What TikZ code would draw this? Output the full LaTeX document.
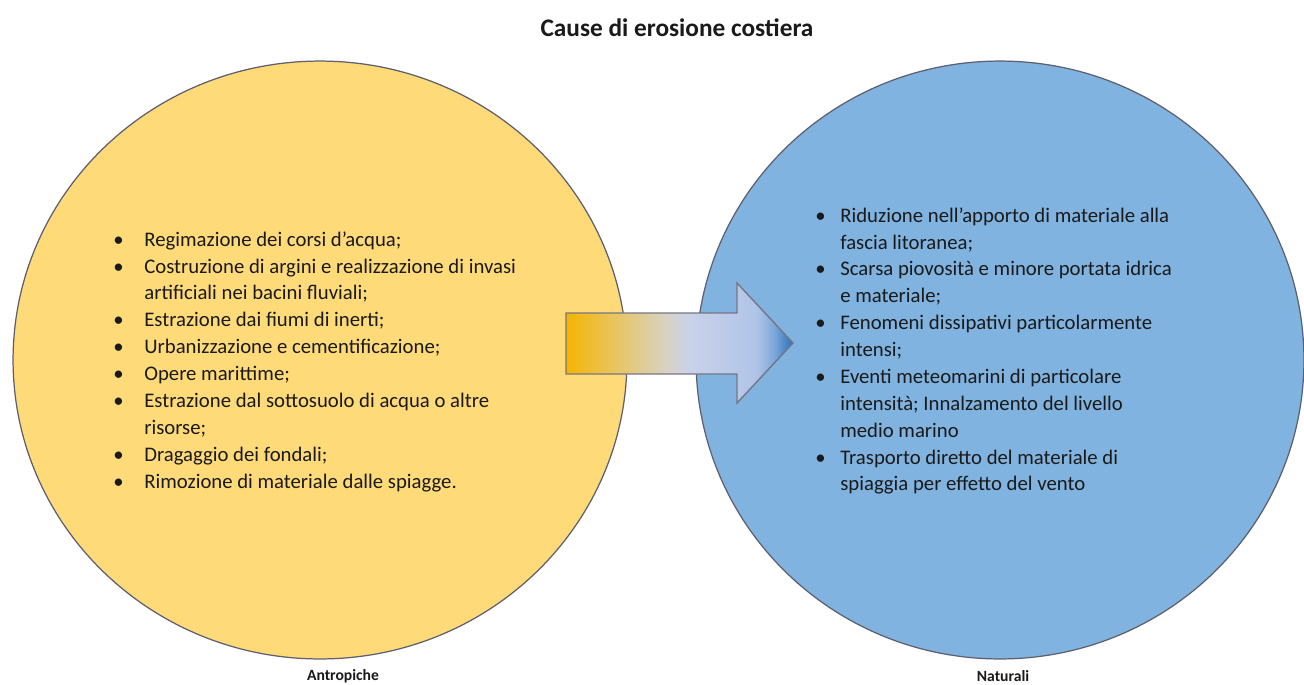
\documentclass[tikz,border=0pt]{standalone}
\usepackage{fontspec}
\setmainfont{Carlito}
\usepackage{xcolor}
\usepackage{tikz}
\usetikzlibrary{shapes.geometric}

\definecolor{giallo}{HTML}{FFDA79}
\definecolor{celeste}{HTML}{80B3DF}
\definecolor{bordo}{HTML}{5E5E6E}
\definecolor{testo}{HTML}{1A1A1A}
%% arrow gradient stops
\definecolor{oroF}{HTML}{F4B400}
\definecolor{oroM}{HTML}{E9C45A}
\definecolor{grigioL}{HTML}{D8D2C2}
\definecolor{lavanda}{HTML}{CAD2EA}
\definecolor{azzChiaro}{HTML}{B0C4E8}
\definecolor{azzMedio}{HTML}{7AA6DA}
\definecolor{azzScuro}{HTML}{2A6EBD}

\pgfdeclarehorizontalshading{freccia}{100bp}{%
  color(0bp)=(oroF); color(25bp)=(oroF); color(35bp)=(oroM);
  color(47bp)=(grigioL); color(52bp)=(lavanda); color(67bp)=(azzChiaro);
  color(71bp)=(azzMedio); color(75bp)=(azzScuro); color(100bp)=(azzScuro)}

\begin{document}
\begin{tikzpicture}[
  x=0.02cm, y=-0.02cm,
  cerchio/.style={ellipse, draw=bordo, line width=0.7pt, inner sep=0pt},
  elenco/.style={anchor=north west, inner sep=0pt, text=testo,
                 font=\fontsize{11.8}{15.3}\selectfont},
  titolo/.style={text=testo, inner sep=0pt, font=\fontsize{14.4}{17}\selectfont\bfseries},
  etichetta/.style={text=testo, inner sep=0pt, font=\fontsize{8.9}{10}\selectfont\bfseries},
]

%% Frame: 1304 x 684 px, 1 px = 0.02 cm
\fill[white] (0,0) rectangle (1304,684);
\useasboundingbox (0,0) rectangle (1304,684);

%% Title
\node[titolo] (titolo) at (677,28) {Cause di erosione costiera};

%% The two circles
\node[cerchio, fill=giallo, minimum width=12.28cm, minimum height=11.96cm]
  (antro) at (320,360) {};
\node[cerchio, fill=celeste, minimum width=12.16cm, minimum height=11.96cm]
  (natur) at (1000,360) {};

%% Arrow between them
\shade[shading=freccia, draw=bordo!85, line width=0.8pt]
  (566,313) -- (737,313) -- (737,283) -- (793,343)
  -- (737,403) -- (737,374) -- (566,374) -- cycle;

%% Left list
\node[elenco] (lista-antro) at (113,227) {%
  \begin{tabular}{@{}p{0.62cm}@{}l@{}}
  \textbullet & Regimazione dei corsi d’acqua;\\
  \textbullet & Costruzione di argini e realizzazione di invasi\\
              & artificiali nei bacini fluviali;\\
  \textbullet & Estrazione dai fiumi di inerti;\\
  \textbullet & Urbanizzazione e cementificazione;\\
  \textbullet & Opere marittime;\\
  \textbullet & Estrazione dal sottosuolo di acqua o altre\\
              & risorse;\\
  \textbullet & Dragaggio dei fondali;\\
  \textbullet & Rimozione di materiale dalle spiagge.
  \end{tabular}};

%% Right list
\node[elenco] (lista-natur) at (815,203) {%
  \begin{tabular}{@{}p{0.5cm}@{}l@{}}
  \textbullet & Riduzione nell’apporto di materiale alla\\
              & fascia litoranea;\\
  \textbullet & Scarsa piovosità e minore portata idrica\\
              & e materiale;\\
  \textbullet & Fenomeni dissipativi particolarmente\\
              & intensi;\\
  \textbullet & Eventi meteomarini di particolare\\
              & intensità; Innalzamento del livello\\
              & medio marino\\
  \textbullet & Trasporto diretto del materiale di\\
              & spiaggia per effetto del vento
  \end{tabular}};

%% Labels under the circles
\node[etichetta] (lab-antro) at (343,676) {Antropiche};
\node[etichetta] (lab-natur) at (1003,676) {Naturali};

\end{tikzpicture}
\end{document}
